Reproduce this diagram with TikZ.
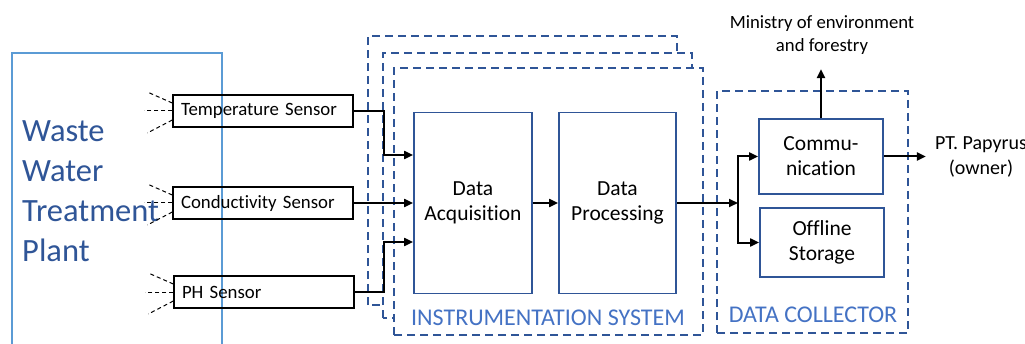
\documentclass[tikz,border=0pt]{standalone}
\usepackage{fontspec}
\setmainfont{Carlito}[Ligatures=NoCommon]
\usetikzlibrary{arrows.meta,positioning}
\definecolor{plantblue}{RGB}{91,155,213}
\definecolor{darkblue}{RGB}{47,85,151}
\definecolor{labelblue}{RGB}{68,114,196}

\begin{document}
\begin{tikzpicture}[x=1pt,y=1pt,
		sensor/.style={draw,line width=1.4pt,text width=164pt,align=left,inner xsep=8pt,minimum height=32pt,font=\fontsize{18.8}{20}\selectfont},
		block/.style={draw=darkblue,line width=1.8pt,align=center,font=\fontsize{21.5}{25}\selectfont},
		dashbox/.style={draw=darkblue,line width=1.8pt,dash pattern=on 8pt off 5pt,fill=white},
		conn/.style={line width=2pt,-{Triangle[length=9pt,width=8pt]}},
		probe/.style={line width=1pt,dash pattern=on 4pt off 3pt},
		syslabel/.style={text=labelblue,font=\fontsize{24}{26}\selectfont}]
		\useasboundingbox (0,0) rectangle (1025,343);
		
		% plant
		\draw[plantblue,line width=2pt] (12,-5) -- (12,290) -- (222,290) -- (222,-5);
		\node[anchor=north west,align=left,text=darkblue,font=\fontsize{32.5}{40}\selectfont,inner sep=0pt] (plant) at (22,223) {Waste\\Water\\Treatment\\Plant};
		
		% instrumentation system
		\draw[dashbox] (368,38) rectangle (677,307);
		\draw[dashbox] (383,25) rectangle (692,290);
		\draw[dashbox] (394,8) rectangle (703,275);
		\node[syslabel] (instlabel) at (548,25) {INSTRUMENTATION SYSTEM};
		
		% data collector
		\draw[dashbox] (717,10) rectangle (908,252);
		\node[syslabel] (collabel) at (813,28) {DATA COLLECTOR};
		
		% sensors
		\node[sensor] (temp) at (263,232) {Temperature Sensor};
		\node[sensor] (cond) at (263,140) {Conductivity Sensor};
		\node[sensor] (ph) at (264,51) {PH Sensor};
		\foreach \s in {temp,cond,ph}{
			\draw[probe] ([yshift=8pt]\s.west) -- ++(-25,11);
			\draw[probe] (\s.west) -- ++(-28,0);
			\draw[probe] ([yshift=-9pt]\s.west) -- ++(-25,-13);
		}
		
		\node[block,minimum width=118pt,minimum height=181pt] (acq) at (473,140) {Data\\Acquisition};
		\node[block,minimum width=117pt,minimum height=181pt] (proc) at (617.5,140) {Data\\Processing};
		\node[block,minimum width=124pt,minimum height=75pt] (comm) at (821,186.5) {Commu-\\nication};
		\node[block,minimum width=124pt,minimum height=69pt] (store) at (822,100.5) {Offline\\Storage};
		\node[align=center,font=\fontsize{18.7}{23}\selectfont] (ministry) at (822,307.5) {Ministry of environment\\and forestry};
		\node[align=center,font=\fontsize{20}{25}\selectfont] (owner) at (981,186) {PT. Papyrus\\(owner)};
		\coordinate (split) at (738,140);
		
		\draw[conn] (temp.east) -- ++(30,0) |- ([yshift=48pt]acq.west);
		\draw[conn] (cond.east) -- (acq.west);
		\draw[conn] (ph.east) -- ++(29,0) |- ([yshift=-39pt]acq.west);
		\draw[conn] (acq) -- (proc);
		\draw[conn] (proc.east) -- (split);
		\draw[conn] (split) |- (comm.west);
		\draw[conn] (split) |- (store.west);
		\draw[conn] (comm.north) -- ++(0,49);
		\draw[conn] (comm.east) -- ++(42,0);
	\end{tikzpicture}
\end{document}
